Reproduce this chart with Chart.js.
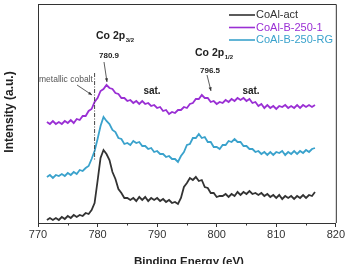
<!DOCTYPE html>
<html><head><meta charset="utf-8">
<script src="https://cdn.jsdelivr.net/npm/chart.js@4.4.1/dist/chart.umd.min.js"></script>
<style>html,body{margin:0;padding:0;background:#fff}#wrap{width:346px;height:264px}</style>
</head><body><div id="wrap"><canvas id="c" width="346" height="264"></canvas></div>
<script>
const energies = [771.5,772,772.5,773,773.5,774,774.5,775,775.5,776,776.5,777,777.5,778,778.5,779,779.5,780,780.5,781,781.5,782,782.5,783,783.5,784,784.5,785,785.5,786,786.5,787,787.5,788,788.5,789,789.5,790,790.5,791,791.5,792,792.5,793,793.5,794,794.5,795,795.5,796,796.5,797,797.5,798,798.5,799,799.5,800,800.5,801,801.5,802,802.5,803,803.5,804,804.5,805,805.5,806,806.5,807,807.5,808,808.5,809,809.5,810,810.5,811,811.5,812,812.5,813,813.5,814,814.5,815,815.5,816,816.5];
const coalAct = [3,5,3,5,3,6,4,7,5,8, 6,8,7,10,9,13,20,42,65,73, 69,63,51,44,34,30,25,25,23,25, 22,26,23,26,22,25,23,25,22,24, 21,23,20,21,19,25,36,40,45,43, 46,42,43,36,35,30,30,26,27,27, 29,26,29,27,31,28,31,29,32,29, 30,28,30,27,29,26,28,25,28,24, 27,25,27,24,27,25,28,25,28,27, 31];
const coalB1 = [101,99,102,99,101,99,102,100,103,100, 104,103,107,107,112,114,121,125,132,134, 138,135,134,130,129,125,125,122,123,120, 122,119,122,119,120,117,118,115,116,112, 113,109,111,110,113,113,116,115,119,120, 124,124,128,125,125,121,122,119,121,120, 123,121,124,122,125,123,125,122,124,120, 121,117,119,115,118,115,117,114,117,116, 118,115,117,115,118,115,118,116,118,116, 118];
const coalRG = [46,48,45,48,47,49,47,50,48,51, 49,53,52,55,57,64,72,84,97,106, 102,99,93,91,85,84,79,80,78,82, 80,81,77,77,74,75,71,72,69,69, 66,67,64,64,61,67,71,78,79,85, 85,89,85,86,81,81,76,76,74,78, 78,82,81,84,81,81,77,77,74,74, 71,72,69,71,68,71,68,71,70,72, 68,71,69,72,69,72,70,73,71,74, 75];
const seriesNames = ['CoAl-act','CoAl-B-250-1','CoAl-B-250-RG'];
const seriesColors = ['#333333','#9a2fd4','#3aa2cc'];
const xTicks = [770,780,790,800,810,820];
const minorTicks = [775,785,795,805,815];
const metallicCobalt = 779.5;

const toPts = ys => energies.map((x,i)=>({x:x,y:ys[i]}));
const sets = [coalAct, coalB1, coalRG];

const overlay = {
  id:'overlay',
  afterDraw(chart){
    const ctx = chart.ctx, a = chart.chartArea, xs = chart.scales.x;
    ctx.save();
    ctx.strokeStyle = '#333'; ctx.lineWidth = 1;
    ctx.beginPath();
    ctx.moveTo(a.left, a.top+0.5); ctx.lineTo(a.right+0.5, a.top+0.5); ctx.lineTo(a.right+0.5, a.bottom);
    ctx.stroke();
    minorTicks.forEach(v=>{const px=Math.round(xs.getPixelForValue(v))+0.5;ctx.beginPath();ctx.moveTo(px,a.bottom);ctx.lineTo(px,a.bottom+2.5);ctx.stroke();});
    // legend
    ctx.textBaseline='middle'; ctx.font='11px "Liberation Sans", Arial, sans-serif';
    seriesNames.forEach((n,i)=>{
      const y = 15 + i*12.5;
      ctx.strokeStyle=seriesColors[i]; ctx.lineWidth=1.6;
      ctx.beginPath(); ctx.moveTo(229,y); ctx.lineTo(255,y); ctx.stroke();
      ctx.fillStyle=seriesColors[i]; ctx.textAlign='left'; ctx.fillText(n,256,y);
    });
    // axis titles
    ctx.fillStyle='#222'; ctx.font='bold 11.5px "Liberation Sans", Arial, sans-serif'; ctx.textAlign='center';
    ctx.fillText('Binding Energy (eV)', 189, 261.5);
    ctx.save(); ctx.translate(10,112); ctx.rotate(-Math.PI/2);
    ctx.font='bold 12px "Liberation Sans", Arial, sans-serif'; ctx.fillText('Intensity (a.u.)',0,0); ctx.restore();
    // annotations
    ctx.fillStyle='#222';
    ctx.font='bold 10.5px "Liberation Sans", Arial, sans-serif'; ctx.textAlign='left';
    ctx.fillText('Co 2p',96,36); let w=ctx.measureText('Co 2p').width;
    ctx.font='bold 6px "Liberation Sans", Arial, sans-serif'; ctx.fillText('3/2',96+w+0.5,40);
    ctx.font='bold 10.5px "Liberation Sans", Arial, sans-serif';
    ctx.fillText('Co 2p',195,53); w=ctx.measureText('Co 2p').width;
    ctx.font='bold 6px "Liberation Sans", Arial, sans-serif'; ctx.fillText('1/2',195+w+0.5,57);
    ctx.font='bold 8px "Liberation Sans", Arial, sans-serif'; ctx.textAlign='center';
    ctx.fillText('780.9',109,56); ctx.fillText('796.5',210,71);
    ctx.font='bold 10px "Liberation Sans", Arial, sans-serif';
    ctx.fillText('sat.',152,91); ctx.fillText('sat.',251,91);
    ctx.font='8.5px "Liberation Sans", Arial, sans-serif'; ctx.fillStyle='#555'; ctx.textAlign='left';
    ctx.fillText('metallic cobalt',39,80);
    const arrow=(x1,y1,x2,y2)=>{
      ctx.strokeStyle='#333'; ctx.lineWidth=0.8; ctx.beginPath(); ctx.moveTo(x1,y1); ctx.lineTo(x2,y2); ctx.stroke();
      const ang=Math.atan2(y2-y1,x2-x1), L=4;
      ctx.fillStyle='#333'; ctx.beginPath(); ctx.moveTo(x2,y2);
      ctx.lineTo(x2-L*Math.cos(ang-0.4),y2-L*Math.sin(ang-0.4));
      ctx.lineTo(x2-L*Math.cos(ang+0.4),y2-L*Math.sin(ang+0.4)); ctx.closePath(); ctx.fill();
    };
    arrow(104,62,107,82); arrow(207,75,211,91); arrow(77,85,92,95);
    // dash-dot line
    const mx = xs.getPixelForValue(metallicCobalt);
    ctx.strokeStyle='#333'; ctx.lineWidth=0.9; ctx.setLineDash([4,1.5,1,1.5]);
    ctx.beginPath(); ctx.moveTo(mx,73); ctx.lineTo(mx,160); ctx.stroke();
    ctx.restore();
  }
};

new Chart(document.getElementById('c'),{
  type:'line',
  data:{datasets: sets.map((s,i)=>({label:seriesNames[i],data:toPts(s),borderColor:seriesColors[i],borderWidth:1.8,pointRadius:0,tension:0,fill:false}))},
  options:{
    responsive:false, animation:false, devicePixelRatio:1,
    layout:{padding:{left:0,right:10,top:4,bottom:0}},
    plugins:{legend:{display:false},tooltip:{enabled:false}},
    scales:{
      x:{type:'linear',min:770,max:820,
        afterBuildTicks(s){s.ticks=xTicks.map(v=>({value:v}));},
        afterFit(s){s.height=41;},
        ticks:{color:'#333',font:{size:11,family:'"Liberation Sans", Arial, sans-serif'},padding:1,maxRotation:0},
        grid:{display:true,drawOnChartArea:false,tickLength:4,color:'#333'},
        border:{display:true,color:'#333',width:1}},
      y:{min:0,max:219,
        afterFit(s){s.width=38;},
        ticks:{display:false},
        grid:{display:false},
        border:{display:true,color:'#333',width:1}}
    }
  },
  plugins:[overlay]
});
</script></body></html>
